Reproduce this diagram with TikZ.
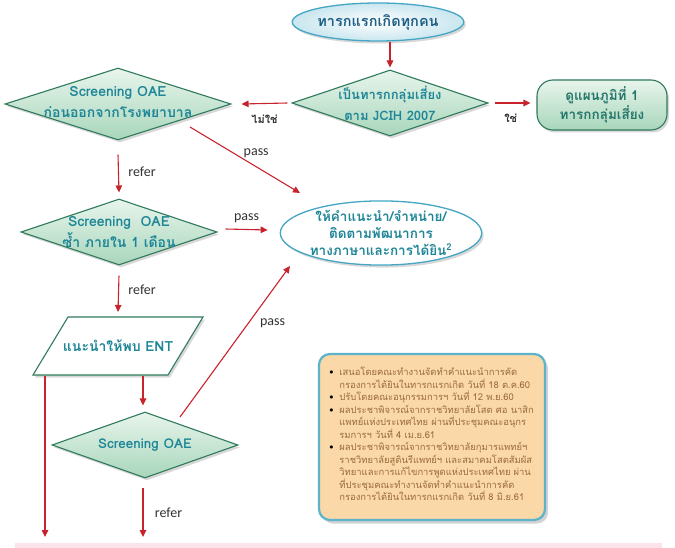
\documentclass[tikz,border=0pt]{standalone}
\usepackage{fontspec}
\setmainfont{Carlito}
\newfontfamily\thai[Script=Thai]{Loma}
\usetikzlibrary{shapes.geometric,arrows.meta,shadows,calc}

\definecolor{arrowred}{HTML}{C8232C}
\definecolor{diaedge}{HTML}{2F7A5C}
\definecolor{diatop}{HTML}{E8F5EC}
\definecolor{diabot}{HTML}{A8D6BB}
\definecolor{tealtext}{HTML}{1E8697}
\definecolor{bluetext}{HTML}{1D5F86}
\definecolor{greentext}{HTML}{24766A}
\definecolor{elledge}{HTML}{45A6C4}
\definecolor{ellfill}{HTML}{C9E6EF}
\definecolor{labgray}{HTML}{333333}
\definecolor{notefill}{HTML}{FAD8A8}
\definecolor{noteedge}{HTML}{5BB4CA}
\definecolor{notetext}{HTML}{9A6A3A}
\definecolor{stripe}{HTML}{FBE3EA}

\newcommand\notebul{\makebox[10pt][l]{\color{black}\textbullet}}
\newcommand\noteind{\hspace*{10pt}}

\begin{document}
\begin{tikzpicture}[x=1pt,y=-1pt,
  arr/.style={draw=arrowred, line width=1.1pt, -{Triangle[length=7pt,width=6.5pt]}},
  softshadow/.style={drop shadow={opacity=0.3, shadow xshift=2pt, shadow yshift=-2.5pt}},
  dia/.style={diamond, draw=diaedge, line width=1.1pt, top color=diatop, bottom color=diabot,
    inner sep=0pt, softshadow},
  dtext/.style={font=\thai\bfseries\fontsize{#1}{21}\selectfont, text=tealtext, align=center},
  dtext/.default=14,
  lab/.style={font=\fontsize{14}{16}\selectfont, text=labgray},
  thlab/.style={font=\thai\bfseries\fontsize{11}{13}\selectfont, text=labgray},
]
\useasboundingbox[fill=white] (0,0) rectangle (675,548);

% start node
\node[ellipse, draw=elledge, line width=1.3pt, inner color=white, outer color=ellfill,
  minimum width=170pt, minimum height=38pt, inner sep=0pt, softshadow,
  font=\thai\bfseries\fontsize{14.5}{16}\selectfont, text=bluetext] (start) at (378,22) {ทารกแรกเกิดทุกคน};

% risk-group decision
\node[dia, minimum width=196pt, minimum height=66pt,
  label={[dtext=13]center:{เป็นทารกกลุ่มเสี่ยง\\ตาม JCIH 2007}}] (risk) at (390,103) {};

% chart 1 reference
\node[rectangle, rounded corners=16pt, draw=diaedge, line width=1.1pt,
  top color=diatop, bottom color=diabot, minimum width=130pt, minimum height=50pt, softshadow,
  inner sep=0pt, font=\thai\bfseries\fontsize{13.5}{19}\selectfont, text=greentext, align=center]
  (chart) at (602,105) {ดูแผนภูมิที่ 1\\ทารกกลุ่มเสี่ยง};

% first OAE screening
\node[dia, minimum width=226pt, minimum height=72pt,
  label={[dtext=14, yshift=2pt]center:{Screening OAE\\ก่อนออกจากโรงพยาบาล}}] (oae1) at (118,104) {};

% repeat OAE screening
\node[dia, minimum width=196pt, minimum height=66pt,
  label={[dtext=14]center:{Screening\ \ OAE\\ซ้ำ ภายใน 1 เดือน}}] (oae2) at (119,232) {};

% follow-up ellipse
\node[ellipse, draw=elledge, line width=1.3pt, fill=white, softshadow,
  minimum width=198pt, minimum height=64pt, inner sep=0pt,
  font=\thai\bfseries\fontsize{13.5}{17}\selectfont, text=tealtext, align=center] (follow) at (381,233)
  {ให้คำแนะนำ/จำหน่าย/\\ติดตามพัฒนาการ\\ทางภาษาและการได้ยิน\textsuperscript{2}};

% ENT referral: parallelogram outline, then its text node
\coordinate (entc) at (118,346);
\draw[diaedge, line width=1.1pt, fill=white, softshadow]
  ($(entc)+(-50,-29)$) -- ($(entc)+(85,-29)$) --
  ($(entc)+(50,29)$) -- ($(entc)+(-85,29)$) -- cycle;
\node[font=\thai\bfseries\fontsize{14}{16}\selectfont, text=tealtext] (ent) at (entc) {แนะนำให้พบ ENT};

% final OAE screening
\node[dia, minimum width=186pt, minimum height=66pt,
  label={[dtext=13.5]center:{Screening OAE}}] (oae3) at (145,445) {};

% note box
\node[rectangle, rounded corners=11pt, draw=noteedge, line width=2.2pt, fill=notefill,
  drop shadow={opacity=0.35, shadow xshift=3pt, shadow yshift=-3.5pt},
  minimum width=226pt, minimum height=166pt, inner sep=0pt] (note) at (432,437) {};
\node[font=\thai\fontsize{9.4}{12.5}\selectfont, text=notetext, align=left, anchor=north west]
  (notetxt) at ($(note.north west)+(8,11)$) {%
\notebul เสนอโดยคณะทำงานจัดทำคำแนะนำการคัด\\
\noteind กรองการได้ยินในทารกแรกเกิด วันที่ 18 ต.ค.60\\
\notebul ปรับโดยคณะอนุกรรมการฯ วันที่ 12 พ.ย.60\\
\notebul ผลประชาพิจารณ์จากราชวิทยาลัยโสต ศอ นาสิก\\
\noteind แพทย์แห่งประเทศไทย ผ่านที่ประชุมคณะอนุกร\\
\noteind รมการฯ วันที่ 4 เม.ย.61\\
\notebul ผลประชาพิจารณ์จากราชวิทยาลัยกุมารแพทย์ฯ\\
\noteind ราชวิทยาลัยสูตินรีแพทย์ฯ และสมาคมโสตสัมผัส\\
\noteind วิทยาและการแก้ไขการพูดแห่งประเทศไทย ผ่าน\\
\noteind ที่ประชุมคณะทำงานจัดทำคำแนะนำการคัด\\
\noteind กรองการได้ยินในทารกแรกเกิด วันที่ 8 มิ.ย.61};

% connectors
\draw[arr] (start.south -| risk.north) -- ($(risk.north)+(0,-2)$);
\draw[arr] ($(risk.east)+(6,0)$) -- ($(chart.west)+(-6,-2)$)
  node[thlab, pos=0.45, below=7pt] (yes) {ใช่};
\draw[arr] ($(risk.west)+(-4,0)$) -- ($(oae1.east)+(10,0)$)
  node[thlab, pos=0.5, below=8pt] (no) {ไม่ใช่};
\draw[arr] ($(oae1.south)+(0,14)$) -- ($(oae2.north)+(0,-6)$)
  node[lab, pos=0.45, right=6pt] (refer1) {refer};
\draw[arr] ($(oae1.center)+(72,23)$) -- ($(follow.center)+(-81,-40)$)
  node[lab, pos=0.62, above=6pt, xshift=-2pt] (pass1) {pass};
\draw[arr] ($(oae2.east)+(8,-3)$) -- ($(follow.west)+(-12,-3)$)
  node[lab, pos=0.5, above=3pt] (pass2) {pass};
\draw[arr] ($(oae2.south)+(0,10)$) -- ($(ent.center)+(0,-34)$)
  node[lab, pos=0.4, right=6pt] (refer2) {refer};
\coordinate (entL) at ($(ent.center)+(-73,30)$);
\coordinate (downL) at (45,537);
\draw[arr] (entL) -- (downL);
\draw[arr] ($(ent.center)+(25,30)$) -- ($(oae3.north)+(-2,-6)$);
\coordinate (downR) at (143,537);
\draw[arr] ($(oae3.south)+(-2,9)$) -- (downR)
  node[lab, pos=0.5, right=8pt] (refer3) {refer};
\draw[arr] ($(oae3.center)+(35,-28)$) -- ($(follow.center)+(-91,33)$)
  node[lab, pos=0.62, right=8pt] (pass3) {pass};

% bottom band
\fill[stripe] (15,543) rectangle (662,548);
\end{tikzpicture}
\end{document}
